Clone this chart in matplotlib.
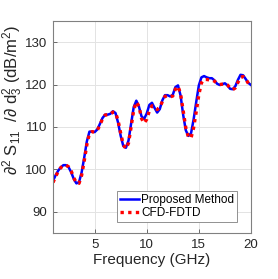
import matplotlib
matplotlib.use("Agg")
import matplotlib.pyplot as plt
import numpy as np

# frequency grid (GHz) shared by both curves
freq = np.arange(1.0, 20.01, 0.25)

proposed = [
    97.3, 98.6, 99.7, 100.5, 101.0, 101.0, 100.5, 99.3, 97.7, 96.7,
    97.0, 99.3, 102.8, 106.6, 108.9, 108.9, 108.8, 109.4, 110.7, 112.1,
    112.9, 112.9, 113.1, 113.7, 113.3, 111.0, 107.9, 105.5, 105.1, 106.8,
    110.8, 114.7, 116.2, 114.8, 112.5, 111.9, 113.2, 115.2, 115.7, 114.5,
    113.4, 114.2, 116.3, 117.5, 117.5, 117.2, 117.6, 119.4, 119.8, 117.4,
    112.8, 109.2, 107.9, 108.5, 111.8, 115.9, 119.8, 121.7, 122.0, 121.7,
    121.5, 121.5, 121.0, 120.2, 119.9, 120.1, 120.3, 119.8, 119.0, 118.9,
    119.6, 121.1, 122.3, 122.2, 121.3, 120.4, 119.9,
]

cfd_fdtd = [
    96.9, 98.3, 99.5, 100.4, 100.9, 101.0, 100.6, 99.6, 98.0, 96.8,
    96.7, 98.6, 102.0, 105.8, 108.5, 108.9, 108.8, 109.2, 110.4, 111.9,
    112.8, 112.9, 113.0, 113.5, 113.4, 111.5, 108.5, 105.8, 104.9, 106.2,
    110.0, 114.0, 115.9, 114.9, 112.0, 110.9, 111.8, 113.8, 115.0, 114.7,
    114.1, 114.6, 116.0, 117.2, 117.4, 117.1, 117.3, 118.9, 119.6, 117.8,
    113.8, 109.8, 107.6, 107.4, 109.8, 113.6, 117.6, 120.4, 121.2, 121.2,
    121.1, 121.1, 120.8, 120.3, 120.0, 120.1, 120.2, 119.9, 119.2, 118.8,
    119.2, 120.5, 121.7, 121.9, 121.3, 120.3, 119.4,
]

x_ticks = [5, 10, 15, 20]
y_ticks = [90, 100, 110, 120, 130]

plt.rcParams["font.family"] = ["Liberation Sans", "DejaVu Sans"]
plt.rcParams["mathtext.fontset"] = "custom"
plt.rcParams["mathtext.rm"] = "Liberation Sans"
plt.rcParams["mathtext.it"] = "Liberation Sans:italic"

fig = plt.figure(figsize=(2.78, 2.79), dpi=100)
ax = fig.add_axes([0.1906, 0.1649, 0.712, 0.760])

ax.plot(freq, proposed, color="#0000FF", lw=1.8, label="Proposed Method")
ax.plot(freq, cfd_fdtd, color="#FF0000", lw=2.4, ls=(0, (1, 1.3)), label="CFD-FDTD")

ax.set_xlim(1, 20)
ax.set_ylim(85, 135)
ax.set_xticks(x_ticks)
ax.set_yticks(y_ticks)
ax.grid(True, color="#e3e3e3", lw=0.7)
ax.set_axisbelow(True)
ax.tick_params(direction="in", length=3, width=0.6, color="#555555",
               labelsize=9.5, labelcolor="#262626", pad=4)
for sp in ax.spines.values():
    sp.set_color("#808080")
    sp.set_linewidth(0.8)

ax.set_xlabel("Frequency (GHz)", fontsize=11, color="#262626", labelpad=2)
fig.text(13 / 278, 1 - 100 / 279,
         r"$\partial^2$ S$_{11}$  /$\partial$ d$_3^2$ (dB/m$^2$)",
         rotation=90, ha="center", va="center", fontsize=12, color="#262626")

leg = ax.legend(loc="lower right", fontsize=8.5, handlelength=1.6,
                handletextpad=0.2, borderpad=0.25, labelspacing=0.15,
                fancybox=False, framealpha=1, edgecolor="#808080",
                bbox_to_anchor=(0.93, 0.05), borderaxespad=0)
leg.get_frame().set_linewidth(0.6)

fig.savefig("out.png", dpi=100)
